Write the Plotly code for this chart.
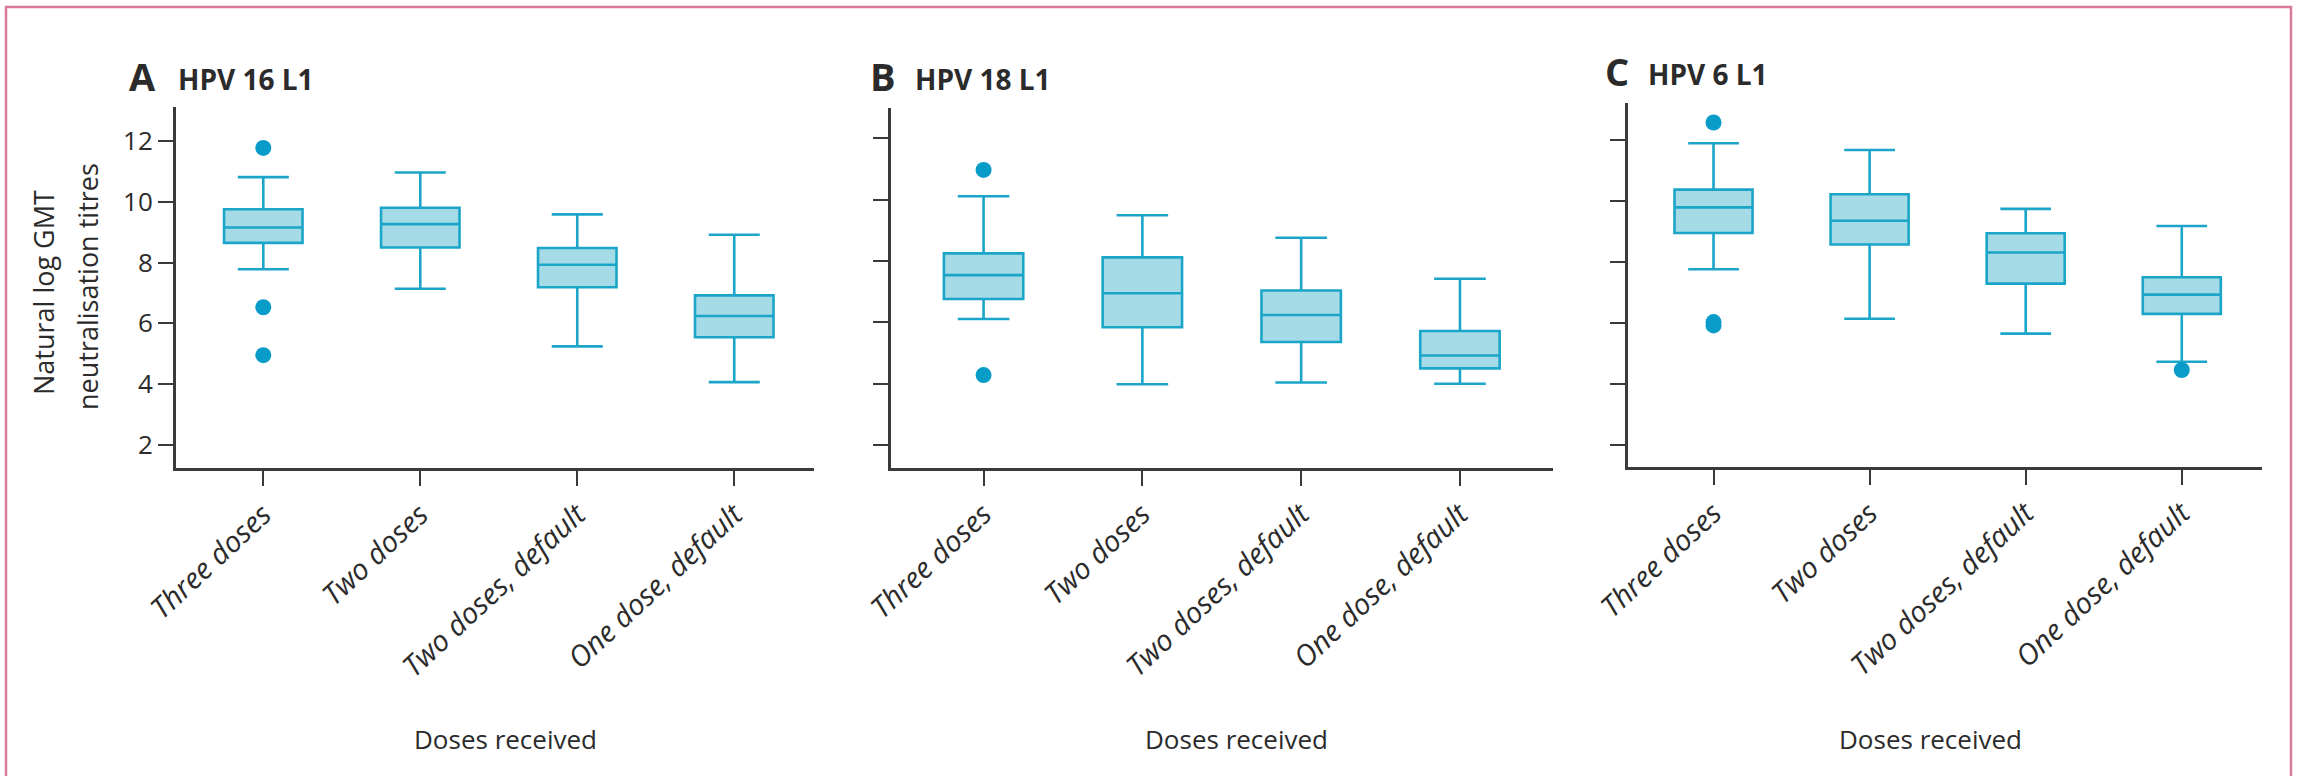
import plotly.graph_objects as go

W, H = 2303, 776

categories = ["Three doses", "Two doses", "Two doses, default", "One dose, default"]
panel_letters = ["A", "B", "C"]
panel_titles = ["HPV 16 L1", "HPV 18 L1", "HPV 6 L1"]
y_ticks = [2, 4, 6, 8, 10, 12]
x_title = "Doses received"
y_title_lines = ["Natural log GMT", "neutralisation titres"]

# Panel A: HPV 16 L1
a_lower = [7.78, 7.14, 5.24, 4.06]
a_q1 = [8.65, 8.50, 7.19, 5.54]
a_median = [9.16, 9.27, 7.93, 6.24]
a_q3 = [9.76, 9.81, 8.48, 6.92]
a_upper = [10.82, 10.97, 9.59, 8.92]
a_out_cat = ["Three doses", "Three doses", "Three doses"]
a_out_val = [11.78, 6.53, 4.95]

# Panel B: HPV 18 L1
b_lower = [6.11, 3.98, 4.04, 4.00]
b_q1 = [6.76, 5.84, 5.36, 4.50]
b_median = [7.54, 6.95, 6.24, 4.92]
b_q3 = [8.25, 8.12, 7.04, 5.72]
b_upper = [10.11, 9.49, 8.76, 7.42]
b_out_cat = ["Three doses", "Three doses"]
b_out_val = [10.97, 4.28]

# Panel C: HPV 6 L1
c_lower = [7.76, 6.14, 5.65, 4.73]
c_q1 = [8.95, 8.57, 7.29, 6.30]
c_median = [9.79, 9.35, 8.31, 6.93]
c_q3 = [10.37, 10.22, 8.94, 7.50]
c_upper = [11.89, 11.67, 9.74, 9.18]
c_out_cat = ["Three doses", "Three doses", "Three doses", "One dose, default"]
c_out_val = [12.57, 6.03, 5.92, 4.46]

panels = [
    (a_lower, a_q1, a_median, a_q3, a_upper, a_out_cat, a_out_val),
    (b_lower, b_q1, b_median, b_q3, b_upper, b_out_cat, b_out_val),
    (c_lower, c_q1, c_median, c_q3, c_upper, c_out_cat, c_out_val),
]

# layout geometry (pixels)
x_dom_px = [(176, 814), (891, 1553), (1628, 2262)]
y_dom_px = [(106.7, 468.3), (108.3, 467.7), (103.3, 466.7)]
x_ranges = [(-0.556, 3.508), (-0.583, 3.586), (-0.548, 3.514)]
y_ranges = [(1.22, 13.14), (1.26, 12.98), (1.29, 13.20)]
letter_px = [(127, 76), (868, 76), (1603, 71)]
title_px = [(176, 79), (913, 79), (1646, 74)]
xtitle_px = [505, 1236, 1931]

BOX_FILL = "#a5dbe6"
BOX_LINE = "#1aa5c9"
DOT = "#0a9cc8"
AXIS = "#3a3a3a"
TEXT = "#2b2b2b"
FONT = "Open Sans"

fig = go.Figure()

for i, (lo, q1, med, q3, up, ocat, oval) in enumerate(panels):
    xa = "x" if i == 0 else f"x{i+1}"
    ya = "y" if i == 0 else f"y{i+1}"
    fig.add_trace(go.Box(
        x=categories, q1=q1, median=med, q3=q3,
        lowerfence=lo, upperfence=up,
        boxpoints=False, width=0.5, whiskerwidth=0.65,
        fillcolor=BOX_FILL, line=dict(color=BOX_LINE, width=2.6),
        xaxis=xa, yaxis=ya, showlegend=False, hoverinfo="skip",
    ))
    fig.add_trace(go.Scatter(
        x=ocat, y=oval, mode="markers",
        marker=dict(color=DOT, size=16, line=dict(width=0)),
        xaxis=xa, yaxis=ya, showlegend=False, hoverinfo="skip",
    ))

    sfx = "" if i == 0 else str(i + 1)
    x0, x1 = x_dom_px[i]
    yt, yb = y_dom_px[i]
    fig.layout[f"xaxis{sfx}"] = dict(
        domain=[x0 / W, x1 / W], anchor=ya, range=list(x_ranges[i]),
        type="category", categoryorder="array", categoryarray=categories,
        showline=True, linecolor=AXIS, linewidth=3, automargin=False,
        ticks="outside", ticklen=15, tickwidth=2, tickcolor=AXIS,
        tickangle=-43, showgrid=False, zeroline=False,
        tickfont=dict(family=FONT, size=29, color=TEXT, style="italic"),
    )
    fig.layout[f"yaxis{sfx}"] = dict(
        domain=[1 - yb / H, 1 - yt / H], anchor=xa, range=list(y_ranges[i]),
        tickvals=y_ticks, showticklabels=(i == 0), automargin=False,
        showline=True, linecolor=AXIS, linewidth=3,
        ticks="outside", ticklen=15, tickwidth=2, tickcolor=AXIS,
        showgrid=False, zeroline=False,
        tickfont=dict(family=FONT, size=26, color=TEXT),
    )

    lx, ly = letter_px[i]
    fig.add_annotation(x=lx / W, y=1 - ly / H, xref="paper", yref="paper",
                       text=f"<b>{panel_letters[i]}</b>", showarrow=False,
                       xanchor="left", yanchor="middle",
                       font=dict(family=FONT, size=38, color=TEXT))
    tx, ty = title_px[i]
    fig.add_annotation(x=tx / W, y=1 - ty / H, xref="paper", yref="paper",
                       text=f"<b>{panel_titles[i]}</b>", showarrow=False,
                       xanchor="left", yanchor="middle",
                       font=dict(family=FONT, size=28, color=TEXT))
    fig.add_annotation(x=xtitle_px[i] / W, y=1 - 739 / H, xref="paper", yref="paper",
                       text=x_title, showarrow=False,
                       xanchor="center", yanchor="middle",
                       font=dict(family=FONT, size=26, color=TEXT))

# y-axis title (two lines)
for (cx, cy), line in zip([(43, 293), (87, 287)], y_title_lines):
    fig.add_annotation(x=cx / W, y=1 - cy / H, xref="paper", yref="paper",
                       text=line, showarrow=False, textangle=-90,
                       xanchor="center", yanchor="middle",
                       font=dict(family=FONT, size=27, color=TEXT))

# pink frame (top, left, right)
fig.add_shape(type="path", xref="paper", yref="paper",
              path=f"M {6/W},0 L {6/W},{1-7/H} L {2291/W},{1-7/H} L {2291/W},0",
              line=dict(color="#d97b98", width=2.5))

fig.update_layout(
    width=W, height=H,
    margin=dict(l=0, r=0, t=0, b=0, pad=0, autoexpand=False),
    paper_bgcolor="white", plot_bgcolor="white",
    font=dict(family=FONT, color=TEXT),
    showlegend=False,
)

fig.write_html("out.html")
